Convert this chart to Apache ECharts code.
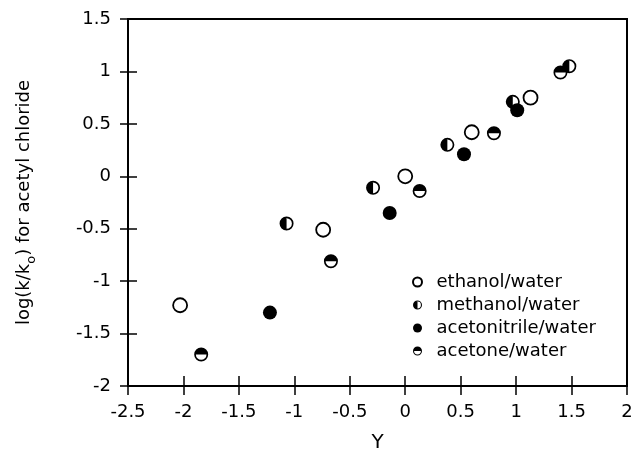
<!DOCTYPE html>
<html><head><meta charset="utf-8">
<script src="https://cdn.jsdelivr.net/npm/echarts@6/dist/echarts.min.js"></script>
<style>html,body{margin:0;padding:0;background:#fff}#c{width:634px;height:453px}</style>
</head><body><div id="c"></div>
<script>
const seriesNames = ['ethanol/water', 'methanol/water', 'acetonitrile/water', 'acetone/water'];
const ethanol = [[-2.03, -1.23], [-0.74, -0.51], [0, 0], [0.60, 0.42], [1.13, 0.75]];
const methanol = [[-1.07, -0.45], [-0.29, -0.11], [0.38, 0.30], [0.97, 0.71], [1.48, 1.05]];
const acetonitrile = [[-1.22, -1.30], [-0.14, -0.35], [0.53, 0.21], [1.01, 0.63]];
const acetone = [[-1.84, -1.70], [-0.67, -0.81], [0.13, -0.14], [0.80, 0.41], [1.40, 0.99]];
const xTicks = [-2.5, -2, -1.5, -1, -0.5, 0, 0.5, 1, 1.5, 2];
const yTicks = [-2, -1.5, -1, -0.5, 0, 0.5, 1, 1.5];
const xTitle = 'Y';
const yTitleParts = ['log(k/k', 'o', ') for acetyl chloride'];

const FONT = 'DejaVu Sans';
const GRID = { left: 128, right: 7, top: 19, bottom: 67 };
const W = 634, H = 453;
const plotH = H - GRID.top - GRID.bottom;
const ring = 'M10 0 A10 10 0 1 1 10 20 A10 10 0 1 1 10 0 Z M10 2.4 A7.6 7.6 0 1 0 10 17.6 A7.6 7.6 0 1 0 10 2.4 Z';
const leftHalf = 'path://' + ring + ' M10 20 A10 10 0 0 1 10 0 Z';
const topHalf = 'path://' + ring + ' M0 10 A10 10 0 0 1 20 10 Z';

const tickLine = { color: '#000', width: 1.5 };
const xRange = { min: xTicks[0], max: xTicks[xTicks.length - 1], interval: xTicks[1] - xTicks[0] };
const yRange = { min: yTicks[0], max: yTicks[yTicks.length - 1], interval: yTicks[1] - yTicks[0] };

// inward half of each crossing tick: split lines dashed so only the part next to the axis shows
const xAxisOpt = Object.assign({
  type: 'value', position: 'bottom',
  axisLine: { show: true, onZero: false, lineStyle: { color: '#000', width: 2 } },
  axisTick: { show: true, inside: false, length: 9, lineStyle: tickLine },
  axisLabel: { fontFamily: FONT, fontSize: 18, color: '#000', margin: 17 },
  splitLine: { show: true, lineStyle: { color: '#000', width: 1.5, type: [0, plotH - 10, 10, 2000] } },
  name: xTitle, nameLocation: 'middle', nameGap: 47,
  nameTextStyle: { fontFamily: FONT, fontSize: 20, color: '#000' }
}, xRange);
const yAxisOpt = Object.assign({
  type: 'value', position: 'left',
  axisLine: { show: true, onZero: false, lineStyle: { color: '#000', width: 2 } },
  axisTick: { show: true, inside: false, length: 8, lineStyle: tickLine },
  axisLabel: { fontFamily: FONT, fontSize: 18, color: '#000', margin: 17 },
  splitLine: { show: true, lineStyle: { color: '#000', width: 1.5, type: [9, 2000] } },
  name: '{m|' + yTitleParts[0] + '}{s|' + yTitleParts[1] + '}{m|' + yTitleParts[2] + '}',
  nameLocation: 'middle', nameGap: 90, nameRotate: 90,
  nameTextStyle: {
    color: '#000',
    rich: {
      m: { fontFamily: FONT, fontSize: 18, lineHeight: 28, color: '#000' },
      s: { fontFamily: FONT, fontSize: 13, lineHeight: 12, verticalAlign: 'bottom', color: '#000' }
    }
  }
}, yRange);

const openStyle = { color: '#fff', borderColor: '#000', borderWidth: 1.8, opacity: 1 };
const fillStyle = { color: '#000', borderWidth: 0, opacity: 1 };

const option = {
  animation: false,
  backgroundColor: '#fff',
  grid: Object.assign({ show: true, borderColor: '#000', borderWidth: 2, backgroundColor: 'transparent', containLabel: false, outerBoundsMode: 'none' }, GRID),
  xAxis: xAxisOpt,
  yAxis: yAxisOpt,
  legend: {
    orient: 'vertical', left: 407, top: 268, itemWidth: 28, itemHeight: 9, itemGap: 5,
    textStyle: { fontFamily: FONT, fontSize: 18, color: '#000' },
    data: [
      { name: seriesNames[0], icon: 'circle' },
      { name: seriesNames[1], icon: leftHalf },
      { name: seriesNames[2], icon: 'circle' },
      { name: seriesNames[3], icon: topHalf }
    ]
  },
  series: [
    { name: seriesNames[0], type: 'scatter', data: ethanol, symbol: 'circle', symbolSize: 14, itemStyle: openStyle },
    { name: seriesNames[1], type: 'scatter', data: methanol, symbol: leftHalf, symbolSize: 14, itemStyle: fillStyle },
    { name: seriesNames[2], type: 'scatter', data: acetonitrile, symbol: 'circle', symbolSize: 14, itemStyle: fillStyle },
    { name: seriesNames[3], type: 'scatter', data: acetone, symbol: topHalf, symbolSize: 14, itemStyle: fillStyle }
  ]
};
const chart = echarts.init(document.getElementById('c'), null, { renderer: 'canvas' });
chart.setOption(option);
</script></body></html>
